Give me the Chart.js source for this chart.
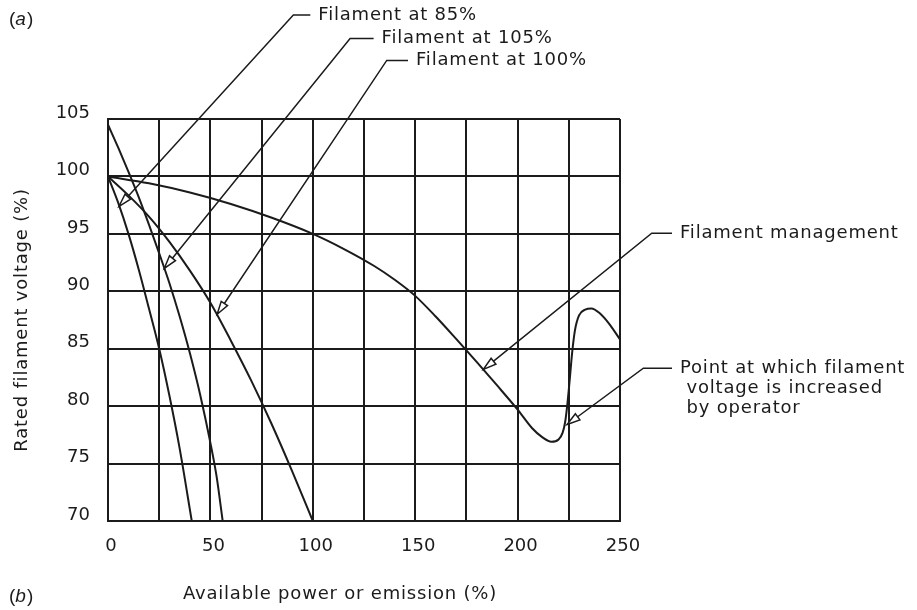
<!DOCTYPE html>
<html lang="en">
<head>
  <meta charset="UTF-8">
  <title>Filament voltage vs available power</title>
  <script src="https://cdn.jsdelivr.net/npm/chart.js"></script>
  <style>
    html, body {
      margin: 0;
      padding: 0;
      background-color: #ffffff;
    }

    #wrap {
      width: 917px;
      height: 610px;
      position: relative;
    }
  </style>
</head>
<body>
  <div id="wrap"><canvas id="filamentChart"></canvas></div>

  <script>
    // curves (x = available power %, y = rated filament voltage %)
    const fil85X = [0, 5, 10, 15, 20, 25, 30, 35, 40.9];
    const fil85Y = [100, 97.7, 95.0, 91.9, 88.5, 85.0, 80.9, 76.3, 70];

    const fil105X = [0, 5, 10, 15, 20, 25, 30, 35, 40, 45, 50, 53, 56];
    const fil105Y = [104.5, 102.5, 100.4, 98.2, 95.8, 93.3, 90.7, 87.8, 84.6, 81.0, 76.8, 73.9, 70];

    const fil100X = [0, 10, 20, 30, 40, 50, 60, 70, 80, 90, 100];
    const fil100Y = [100, 98.35, 96.5, 94.3, 91.8, 89.0, 85.7, 82.2, 78.4, 74.3, 70];

    const mgmtX = [0, 20, 40, 60, 80, 100, 115, 130, 140, 150, 160, 170, 180, 190, 200, 207, 212, 216.5, 220, 222, 223.2, 224.2, 225.4, 226.6, 228, 230, 233, 236, 240, 245, 250];
    const mgmtY = [100, 99.4, 98.6, 97.6, 96.4, 95.0, 93.7, 92.2, 91.0, 89.6, 87.8, 85.85, 83.85, 81.8, 79.7, 78.1, 77.3, 76.9, 77.1, 77.7, 78.6, 80.0, 82.2, 84.6, 86.6, 87.9, 88.4, 88.5, 88.1, 87.1, 85.8];

    const xGridValues = [0, 25, 50, 75, 100, 125, 150, 175, 200, 225, 250];
    const xTickLabels = [0, 50, 100, 150, 200, 250];
    const yTickLabels = [70, 75, 80, 85, 90, 95, 100, 105];

    const xTitle = 'Available power or emission (%)';
    const yTitle = 'Rated filament voltage (%)';

    // leader callouts: tip on the curve, elbow of the leader, start of the text (data units)
    const callouts = [
      { lines: ['Filament at 85%'], tip: [5.4, 97.4], elbow: [90.5, 114.05], textX: 102.7 },
      { lines: ['Filament at 105%'], tip: [27.5, 92.0], elbow: [118.2, 112.0], textX: 133.6 },
      { lines: ['Filament at 100%'], tip: [53.3, 88.0], elbow: [136.1, 110.1], textX: 150.4 },
      { lines: ['Filament management'], tip: [183.3, 83.2], elbow: [265.5, 95.05], textX: 279.3 },
      { lines: ['Point at which filament', ' voltage is increased', ' by operator'], tip: [224.2, 78.4], elbow: [261.4, 83.3], textX: 279.3 }
    ];

    const FONT = '"DejaVu Sans", sans-serif';
    const INK = '#1b1b1b';

    function toPoints(xs, ys) {
      return xs.map((x, i) => ({ x: x, y: ys[i] }));
    }

    function curve(label, xs, ys) {
      return {
        label: label,
        data: toPoints(xs, ys),
        showLine: true,
        borderColor: INK,
        borderWidth: 2,
        pointRadius: 0,
        fill: false,
        cubicInterpolationMode: 'monotone'
      };
    }

    function drawArrowHead(ctx, fromX, fromY, tipX, tipY) {
      const ang = Math.atan2(tipY - fromY, tipX - fromX);
      const len = 13, half = 3.8;
      const bx = tipX - Math.cos(ang) * len;
      const by = tipY - Math.sin(ang) * len;
      ctx.beginPath();
      ctx.moveTo(tipX, tipY);
      ctx.lineTo(bx + Math.sin(ang) * half, by - Math.cos(ang) * half);
      ctx.lineTo(bx - Math.sin(ang) * half, by + Math.cos(ang) * half);
      ctx.closePath();
      ctx.fillStyle = '#ffffff';
      ctx.fill();
      ctx.stroke();
    }

    const calloutPlugin = {
      id: 'callouts',
      afterDraw(chart) {
        const ctx = chart.ctx;
        const xs = chart.scales.x, ys = chart.scales.y;
        const area = chart.chartArea;
        ctx.save();
        ctx.strokeStyle = INK;
        ctx.fillStyle = INK;
        ctx.lineWidth = 1.5;
        ctx.font = '18px ' + FONT;
        ctx.letterSpacing = '0.8px';
        ctx.textBaseline = 'middle';
        ctx.textAlign = 'left';

        callouts.forEach(c => {
          const tx = xs.getPixelForValue(c.tip[0]);
          const ty = ys.getPixelForValue(c.tip[1]);
          const ex = xs.getPixelForValue(c.elbow[0]);
          const ey = ys.getPixelForValue(c.elbow[1]);
          const textX = xs.getPixelForValue(c.textX);
          ctx.beginPath();
          ctx.moveTo(textX - 8, ey);
          ctx.lineTo(ex, ey);
          ctx.lineTo(tx, ty);
          ctx.stroke();
          drawArrowHead(ctx, ex, ey, tx, ty);
          ctx.fillStyle = INK;
          c.lines.forEach((line, i) => {
            ctx.fillText(line, textX, ey + i * 20);
          });
        });

        // axis titles
        ctx.textAlign = 'center';
        ctx.fillText(xTitle, area.left + (area.right - area.left) / 2 - 24, 594);
        ctx.save();
        ctx.translate(22, (area.top + area.bottom) / 2);
        ctx.rotate(-Math.PI / 2);
        ctx.fillText(yTitle, 0, 0);
        ctx.restore();

        // panel letters
        ctx.letterSpacing = '0px';
        ctx.textAlign = 'left';
        [['a', 20], ['b', 597]].forEach(([letter, y]) => {
          let x = 9;
          ctx.font = '19px "Liberation Sans", Arial, sans-serif';
          ctx.fillText('(', x, y);
          x += ctx.measureText('(').width;
          ctx.font = 'italic 19px "Liberation Sans", Arial, sans-serif';
          ctx.fillText(letter, x, y);
          x += ctx.measureText(letter).width + 1;
          ctx.font = '19px "Liberation Sans", Arial, sans-serif';
          ctx.fillText(')', x, y);
        });
        ctx.restore();
      }
    };

    const ctx = document.getElementById('filamentChart').getContext('2d');
    new Chart(ctx, {
      type: 'scatter',
      data: {
        datasets: [
          curve('Filament at 85%', fil85X, fil85Y),
          curve('Filament at 105%', fil105X, fil105Y),
          curve('Filament at 100%', fil100X, fil100Y),
          curve('Filament management', mgmtX, mgmtY)
        ]
      },
      options: {
        responsive: true,
        maintainAspectRatio: false,
        animation: false,
        events: [],
        layout: {
          padding: { left: 0, top: 119, right: 297, bottom: 0 }
        },
        plugins: {
          legend: { display: false },
          tooltip: { enabled: false }
        },
        scales: {
          x: {
            type: 'linear',
            min: 0,
            max: 250,
            afterFit: function(scale) { scale.height = 89; },
            afterBuildTicks: function(scale) {
              scale.ticks = xGridValues.map(v => ({ value: v }));
            },
            ticks: {
              color: INK,
              font: { family: FONT, size: 18 },
              padding: 15,
              labelOffset: 3,
              autoSkip: false,
              maxRotation: 0,
              callback: function(value) {
                return xTickLabels.includes(value) ? String(value) : '';
              }
            },
            grid: { color: INK, lineWidth: 2, drawTicks: false },
            border: { color: INK, width: 2 }
          },
          y: {
            type: 'linear',
            min: 70,
            max: 105,
            afterFit: function(scale) { scale.width = 108; },
            afterBuildTicks: function(scale) {
              scale.ticks = yTickLabels.map(v => ({ value: v }));
            },
            ticks: {
              color: INK,
              font: { family: FONT, size: 18 },
              padding: 18,
              labelOffset: -6,
              autoSkip: false
            },
            grid: { color: INK, lineWidth: 2, drawTicks: false },
            border: { color: INK, width: 2 }
          }
        }
      },
      plugins: [calloutPlugin]
    });
  </script>
</body>
</html>
